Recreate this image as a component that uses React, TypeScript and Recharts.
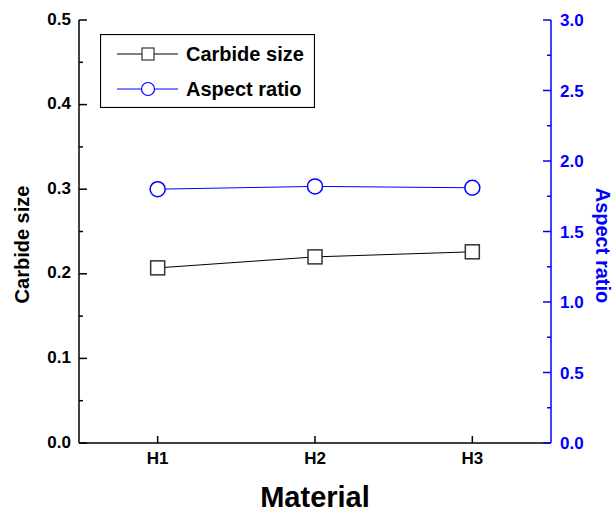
import { Legend, Line, LineChart, XAxis, YAxis } from 'recharts';

const materials = ['H1', 'H2', 'H3'];
const carbideSize = [0.207, 0.22, 0.226];
const aspectRatio = [1.8, 1.82, 1.81];
const leftTicks = [0, 0.05, 0.1, 0.15, 0.2, 0.25, 0.3, 0.35, 0.4, 0.45, 0.5];
const rightTicks = [0, 0.25, 0.5, 0.75, 1, 1.25, 1.5, 1.75, 2, 2.25, 2.5, 2.75, 3];
const xTicks = [1, 2, 3];
const seriesOrder = ['carbide', 'aspect'];

const data = materials.map((m, i) => ({
  x: i + 1,
  name: m,
  carbide: carbideSize[i],
  aspect: aspectRatio[i],
}));

const FONT = 'Arial, "Liberation Sans", sans-serif';
const BLUE = '#0000ff';

function LeftTick({ x, y, payload }: any) {
  const major = Math.round(payload.value * 100) % 10 === 0;
  return (
    <g>
      <line x1={x} x2={x + (major ? 8 : 4)} y1={y} y2={y} stroke="#000" strokeWidth={1.5} />
      {major && (
        <text x={x - 8} y={y} dy={4.5} textAnchor="end" fontSize={17} fontWeight="bold" fontFamily={FONT} fill="#000">
          {payload.value.toFixed(1)}
        </text>
      )}
    </g>
  );
}

function RightTick({ x, y, payload }: any) {
  const major = Math.round(payload.value * 100) % 50 === 0;
  return (
    <g>
      <line x1={x - (major ? 8 : 4)} x2={x} y1={y} y2={y} stroke={BLUE} strokeWidth={1.5} />
      {major && (
        <text x={x + 9} y={y} dy={6} textAnchor="start" fontSize={17} fontWeight="bold" fontFamily={FONT} fill={BLUE}>
          {payload.value.toFixed(1)}
        </text>
      )}
    </g>
  );
}

function BottomTick({ x, y, payload }: any) {
  return (
    <g>
      <line x1={x} x2={x} y1={y - 7} y2={y} stroke="#000" strokeWidth={1.5} />
      <text x={x} y={y + 21} textAnchor="middle" fontSize={17} fontWeight="bold" fontFamily={FONT} fill="#000">
        {materials[payload.value - 1]}
      </text>
    </g>
  );
}

function TopTick({ x, y }: any) {
  return <line x1={x} x2={x} y1={y} y2={y + 7} stroke="#000" strokeWidth={1.5} />;
}

function SquareDot({ cx, cy, index }: any) {
  return <rect key={index} x={cx - 7} y={cy - 7} width={14} height={14} fill="#fff" stroke="#333" strokeWidth={1.5} />;
}

function LegendBox({ payload }: any) {
  const items = [...(payload || [])].sort(
    (a: any, b: any) => seriesOrder.indexOf(a.dataKey) - seriesOrder.indexOf(b.dataKey),
  );
  return (
    <svg width={215} height={74} style={{ display: 'block' }}>
      <rect x={0.5} y={0.5} width={214} height={73} fill="#fff" stroke="#000" strokeWidth={1.2} />
      {items.map((entry: any, i: number) => {
        const cy = 20 + i * 35;
        const square = entry.dataKey === 'carbide';
        return (
          <g key={entry.value}>
            <line x1={17} x2={78} y1={cy} y2={cy} stroke={entry.color} strokeWidth={1} />
            {square ? (
              <rect x={42} y={cy - 6} width={12} height={12} fill="#fff" stroke="#333" strokeWidth={1.2} />
            ) : (
              <circle cx={48} cy={cy} r={6.5} fill="#fff" stroke={BLUE} strokeWidth={1.2} />
            )}
            <text x={86} y={cy + 7} fontSize={20} fontWeight="bold" fontFamily={FONT} fill="#000">
              {entry.value}
            </text>
          </g>
        );
      })}
    </svg>
  );
}

export default function App() {
  return (
    <div style={{ position: 'absolute', left: 0, top: 0, background: '#fff' }}>
      <LineChart width={613} height={517} data={data} margin={{ top: 20, right: 0, bottom: 0, left: 0 }}>
        <XAxis
          dataKey="x"
          type="number"
          domain={[0.5, 3.5]}
          ticks={xTicks}
          interval={0}
          height={74}
          tickSize={0}
          tickMargin={0}
          tickLine={false}
          tick={<BottomTick />}
          axisLine={{ stroke: '#000', strokeWidth: 1.5 }}
          label={{
            content: ({ viewBox }: any) => (
              <text x={viewBox.x + viewBox.width / 2} y={viewBox.y + 64} textAnchor="middle" fontSize={29} fontWeight="bold" fontFamily={FONT} fill="#000">
                Material
              </text>
            ),
          }}
        />
        <XAxis
          xAxisId="top"
          orientation="top"
          dataKey="x"
          type="number"
          domain={[0.5, 3.5]}
          ticks={xTicks}
          interval={0}
          height={0}
          tickSize={0}
          tickMargin={0}
          tickLine={false}
          tick={<TopTick />}
          axisLine={{ stroke: '#000', strokeWidth: 1.5 }}
        />
        <YAxis
          yAxisId="left"
          orientation="left"
          width={79}
          domain={[0, 0.5]}
          ticks={leftTicks}
          interval={0}
          tickSize={0}
          tickMargin={0}
          tickLine={false}
          tick={<LeftTick />}
          axisLine={{ stroke: '#000', strokeWidth: 1.5 }}
          label={{
            content: ({ viewBox }: any) => {
              const cx = 22;
              const cy = viewBox.y + viewBox.height / 2 + 13;
              return (
                <text x={cx} y={cy} transform={`rotate(-90 ${cx} ${cy})`} textAnchor="middle" dominantBaseline="central" fontSize={20} fontWeight="bold" fontFamily={FONT} fill="#000">
                  Carbide size
                </text>
              );
            },
          }}
        />
        <YAxis
          yAxisId="right"
          orientation="right"
          width={62}
          domain={[0, 3]}
          ticks={rightTicks}
          interval={0}
          tickSize={0}
          tickMargin={0}
          tickLine={false}
          tick={<RightTick />}
          axisLine={{ stroke: BLUE, strokeWidth: 1.5 }}
          label={{
            content: ({ viewBox }: any) => {
              const cx = 603;
              const cy = viewBox.y + viewBox.height / 2 + 14;
              return (
                <text x={cx} y={cy} transform={`rotate(90 ${cx} ${cy})`} textAnchor="middle" dominantBaseline="central" fontSize={20} fontWeight="bold" fontFamily={FONT} fill={BLUE}>
                  Aspect ratio
                </text>
              );
            },
          }}
        />
        <Legend
          layout="vertical"
          align="center"
          verticalAlign="middle"
          wrapperStyle={{ left: 100, top: 34, width: 215, height: 74 }}
          content={<LegendBox />}
        />
        <Line
          yAxisId="left"
          dataKey="carbide"
          name="Carbide size"
          stroke="#000"
          strokeWidth={1}
          dot={<SquareDot />}
          activeDot={false}
          isAnimationActive={false}
        />
        <Line
          yAxisId="right"
          dataKey="aspect"
          name="Aspect ratio"
          stroke={BLUE}
          strokeWidth={1}
          dot={{ r: 7.5, fill: '#fff', stroke: BLUE, strokeWidth: 1.5 }}
          activeDot={false}
          isAnimationActive={false}
        />
      </LineChart>
    </div>
  );
}
